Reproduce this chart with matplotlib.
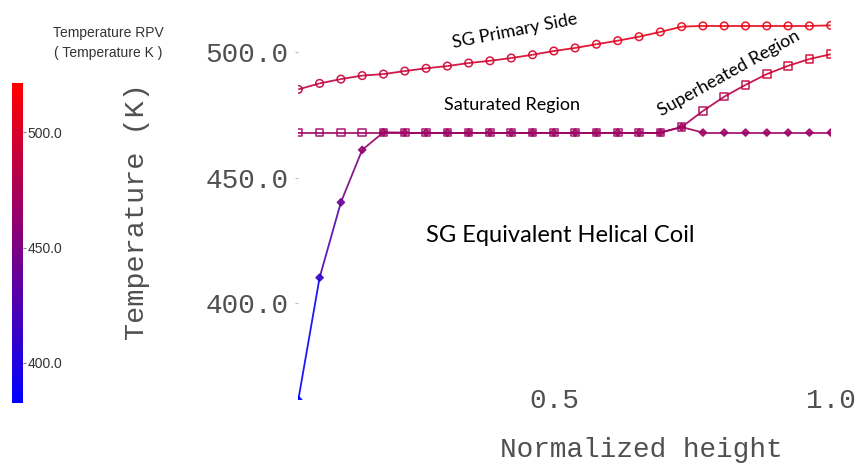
import numpy as np
import matplotlib.pyplot as plt
from matplotlib.collections import LineCollection
from matplotlib.colors import LinearSegmentedColormap, Normalize

# normalized height of the 26 nodes
height = np.arange(1, 27) / 26.0

primary_T = [485.1, 487.5, 489.2, 490.6, 491.2, 492.4, 493.5, 494.4, 495.6, 496.5,
             497.6, 498.9, 500.4, 501.6, 503.1, 504.5, 506.1, 508.0, 510.1, 510.4,
             510.4, 510.4, 510.4, 510.4, 510.4, 510.6]
vapor_T = [467.9] * 18 + [470.1, 476.5, 482.2, 486.9, 491.2, 494.5, 497.2, 499.1]
liquid_T = [361.4, 410.1, 440.1, 461.0, 468.0] + [467.9] * 13 + [470.1] + [467.9] * 7

cb_ticks = [400.0, 450.0, 500.0]
x_ticks = [0.5, 1.0]
y_ticks = [400.0, 450.0, 500.0]

cmap = LinearSegmentedColormap.from_list("rpv", ["#0000ff", "#ff0000"])
norm = Normalize(vmin=382.5, vmax=521.5)

fig = plt.figure(figsize=(8.57, 4.65), dpi=100)
W, H = 857.0, 465.0
ax = fig.add_axes([298.3 / W, 1 - 400 / H, 532.4 / W, 385 / H])


def draw(ax, x, y, marker, filled, ms):
    x = np.asarray(x)
    y = np.asarray(y)
    pts = np.column_stack([x, y]).reshape(-1, 1, 2)
    segs = np.concatenate([pts[:-1], pts[1:]], axis=1)
    lc = LineCollection(segs, cmap=cmap, norm=norm, linewidths=1.3, alpha=0.9)
    lc.set_array((y[:-1] + y[1:]) / 2)
    ax.add_collection(lc)
    cols = cmap(norm(y))
    if filled:
        ax.scatter(x, y, marker=marker, s=ms, c=cols, edgecolors=cols, alpha=0.85, zorder=3)
    else:
        ax.scatter(x, y, marker=marker, s=ms, facecolors="none", edgecolors=cols,
                   linewidths=1.1, alpha=0.9, zorder=3)


draw(ax, height, primary_T, "o", False, 30)
draw(ax, height, liquid_T, "D", True, 14)
draw(ax, height, vapor_T, "s", False, 30)

ax.set_xlim(height[0], height[-1])
ax.set_ylim(500 - 348 / 2.51, 500 + 37 / 2.51)
for s in ax.spines.values():
    s.set_visible(False)

mono = "Liberation Mono"
ax.set_xticks(x_ticks)
ax.set_xticklabels(["%.1f" % v for v in x_ticks], fontfamily=mono, fontsize=20, color="#505050")
ax.set_yticks(y_ticks)
ax.set_yticklabels(["%.1f" % v for v in y_ticks], fontfamily=mono, fontsize=20, color="#505050")
ax.tick_params(axis="x", length=0, pad=-8.5)
ax.tick_params(axis="y", length=2, color="#bbbbbb", pad=5)

ax.set_ylabel("Temperature (K)", fontfamily=mono, fontsize=20.5, color="#505050")
ax.yaxis.set_label_coords(-0.2785, 0.49)
ax.set_xlabel("Normalized height", fontfamily=mono, fontsize=20, color="#505050")
ax.xaxis.set_label_coords(0.6437, -0.13)
ax.xaxis.label.set_verticalalignment("center")

txt = dict(fontfamily="Lato", color="black", ha="center", va="center")
ax.text(0.4298, 508.4, "SG Primary Side", rotation=11, fontsize=13, **txt)
ax.text(0.4245, 478.9, "Saturated Region", fontsize=13, **txt)
ax.text(0.8163, 491.6, "Superheated Region", rotation=29, fontsize=13, **txt)
ax.text(0.5111, 426.7, "SG Equivalent Helical Coil", fontsize=17, **txt)

# colour legend on the left
cax = fig.add_axes([12 / W, 1 - 403 / H, 11 / W, 320 / H])
cb = fig.colorbar(plt.cm.ScalarMappable(norm=norm, cmap=cmap), cax=cax)
cb.outline.set_visible(False)
cb.set_ticks(cb_ticks)
cb.set_ticklabels(["%.1f" % v for v in cb_ticks])
cax.tick_params(length=2, color="#888888", labelsize=10, labelcolor="#333333", pad=1)
for lab in cax.get_yticklabels():
    lab.set_fontfamily("Liberation Sans")
fig.text(108 / W, 1 - 43 / H, "Temperature RPV\n( Temperature K )", ha="center", va="center",
         fontsize=10, fontfamily="Liberation Sans", color="#333333", linespacing=1.5)

fig.savefig("out.png", dpi=100, facecolor="white")
